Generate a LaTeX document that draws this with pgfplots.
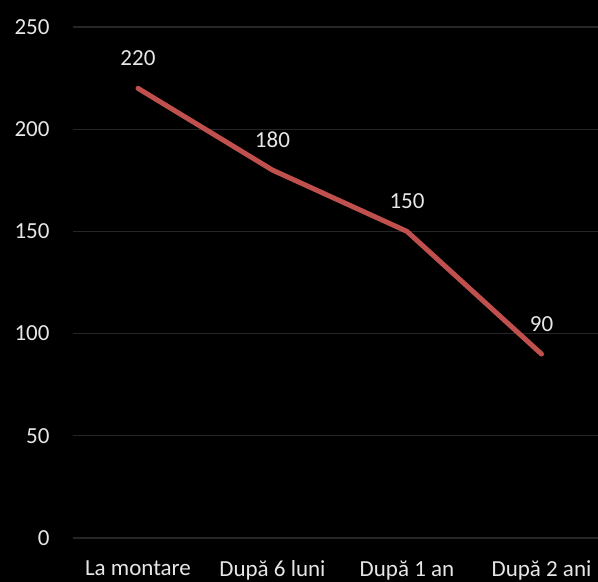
\documentclass[border=0pt]{standalone}
\usepackage{pgfplots}
\pgfplotsset{compat=1.18}
\usepackage{fontspec}
\setmainfont{Carlito}
\definecolor{gridc}{HTML}{262626}
\definecolor{linec}{HTML}{C0504D}
\definecolor{txt}{HTML}{E6E6E6}
\begin{document}
\begin{tikzpicture}
\fill[black] (0,0) rectangle (598bp,582bp);
\useasboundingbox (0,0) rectangle (598bp,582bp);
\begin{axis}[
  at={(73bp,44bp)}, anchor=south west,
  scale only axis, width=525bp, height=511bp,
  xmin=-0.483, xmax=3.42, ymin=0, ymax=250,
  axis line style={draw=none},
  ytick={0,50,100,150,200,250},
  xtick={0,1,2,3},
  xticklabels={La montare, După 6 luni, După 1 an, După 2 ani},
  major tick length=0pt,
  ymajorgrids, grid style={gridc, line width=1.3bp},
  /pgf/number format/assume math mode=true,
  tick label style={font=\fontsize{23bp}{26bp}\selectfont, text=txt},
  yticklabel style={xshift=-20bp},
  xticklabel style={yshift=-19bp},
  clip=false,
]
\addplot[linec, line width=5bp, line cap=round, line join=round,
  nodes near coords, every node near coord/.style={font=\fontsize{23bp}{26bp}\selectfont, text=txt, anchor=south, yshift=17bp}]
  coordinates {(0,220) (1,180) (2,150) (3,90)};
\end{axis}
\end{tikzpicture}
\end{document}
